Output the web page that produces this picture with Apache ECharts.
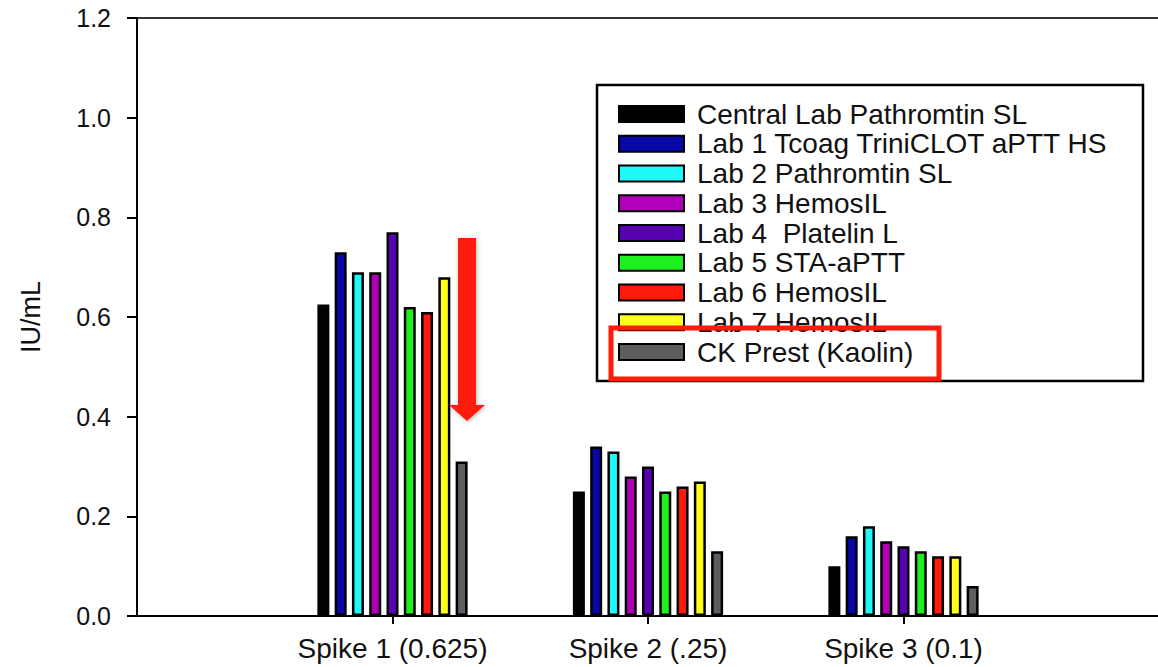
<!DOCTYPE html>
<html>
<head>
<meta charset="utf-8">
<script src="https://cdn.jsdelivr.net/npm/echarts@6/dist/echarts.min.js"></script>
<style>
html,body{margin:0;padding:0;background:#fff;}
#c{width:1158px;height:667px;}
</style>
</head>
<body>
<div id="c"></div>
<script>
const categories = ['Spike 1 (0.625)', 'Spike 2 (.25)', 'Spike 3 (0.1)'];
const seriesNames = ['Central Lab Pathromtin SL', 'Lab 1 Tcoag TriniCLOT aPTT HS', 'Lab 2 Pathromtin SL', 'Lab 3 HemosIL', 'Lab 4  Platelin L', 'Lab 5 STA-aPTT', 'Lab 6 HemosIL', 'Lab 7 HemosIL', 'CK Prest (Kaolin)'];
const seriesColors = ['#000000', '#0808a8', '#1ef8f8', '#b000b8', '#5800b4', '#1ef01e', '#ff1a0a', '#ffff1e', '#5e5e5e'];
const centralLab = [0.625, 0.25, 0.10];
const lab1 = [0.73, 0.34, 0.16];
const lab2 = [0.69, 0.33, 0.18];
const lab3 = [0.69, 0.28, 0.15];
const lab4 = [0.77, 0.30, 0.14];
const lab5 = [0.62, 0.25, 0.13];
const lab6 = [0.61, 0.26, 0.12];
const lab7 = [0.68, 0.27, 0.12];
const ckPrest = [0.31, 0.13, 0.06];
const allValues = [centralLab, lab1, lab2, lab3, lab4, lab5, lab6, lab7, ckPrest];
const yTicks = [0, 0.2, 0.4, 0.6, 0.8, 1.0, 1.2];

const FONT = '"Liberation Sans", Arial, sans-serif';
const axisCats = [' '].concat(categories, ['  ']);

const chart = echarts.init(document.getElementById('c'), null, {renderer: 'svg'});
const series = seriesNames.map((name, s) => ({
  name: name,
  type: 'bar',
  barWidth: 12,
  barGap: '44%',
  itemStyle: {color: seriesColors[s], borderColor: '#000', borderWidth: 2.5},
  emphasis: {disabled: true},
  data: categories.map((c, i) => [c, allValues[s][i]])
}));

chart.setOption({
  backgroundColor: '#fff',
  animation: false,
  grid: {left: 137, top: 18, width: 1022, bottom: 51, show: true, borderColor: '#333', borderWidth: 2, outerBoundsMode: 'none', containLabel: false},
  xAxis: {
    type: 'category',
    data: axisCats,
    boundaryGap: false,
    axisLine: {lineStyle: {color: '#000', width: 2}},
    axisTick: {show: true, length: 8, lineStyle: {color: '#000', width: 2}, interval: (idx) => idx >= 1 && idx <= 3},
    axisLabel: {interval: 0, fontSize: 28, fontFamily: FONT, color: '#111', margin: 18},
    splitLine: {show: false}
  },
  yAxis: {
    type: 'value',
    min: yTicks[0],
    max: yTicks[yTicks.length - 1],
    interval: 0.2,
    name: 'IU/mL',
    nameLocation: 'middle',
    nameGap: 93,
    nameTextStyle: {fontSize: 27, fontFamily: FONT, color: '#111'},
    axisLine: {show: true, lineStyle: {color: '#000', width: 2}},
    axisTick: {show: true, length: 10, lineStyle: {color: '#000', width: 2}},
    axisLabel: {fontSize: 25, fontFamily: FONT, color: '#111', margin: 26, formatter: v => v.toFixed(1)},
    splitLine: {show: false}
  },
  legend: {
    orient: 'vertical',
    left: 618,
    top: 100,
    padding: 0,
    itemWidth: 65,
    itemHeight: 16,
    itemGap: 1.75,
    icon: 'rect',
    selectedMode: false,
    textStyle: {fontSize: 28, fontFamily: FONT, color: '#111', padding: [0, 0, 0, 8]},
    data: seriesNames
  },
  graphic: [
    {type: 'rect', z: 1, shape: {x: 597, y: 85, width: 546, height: 296}, style: {fill: null, stroke: '#000', lineWidth: 2.5}},
    {type: 'rect', z: 100, shape: {x: 611, y: 328, width: 328, height: 51}, style: {fill: null, stroke: '#ff1a0a', lineWidth: 5}},
    {type: 'polygon', z: 100, shape: {points: [[458, 238], [476, 238], [476, 405], [485, 405], [467, 421], [449, 405], [458, 405]]},
      style: {fill: '#ff1c0c', shadowBlur: 4, shadowColor: 'rgba(0,0,0,0.3)', shadowOffsetX: 1, shadowOffsetY: 1}}
  ],
  series: series
});
</script>
</body>
</html>
